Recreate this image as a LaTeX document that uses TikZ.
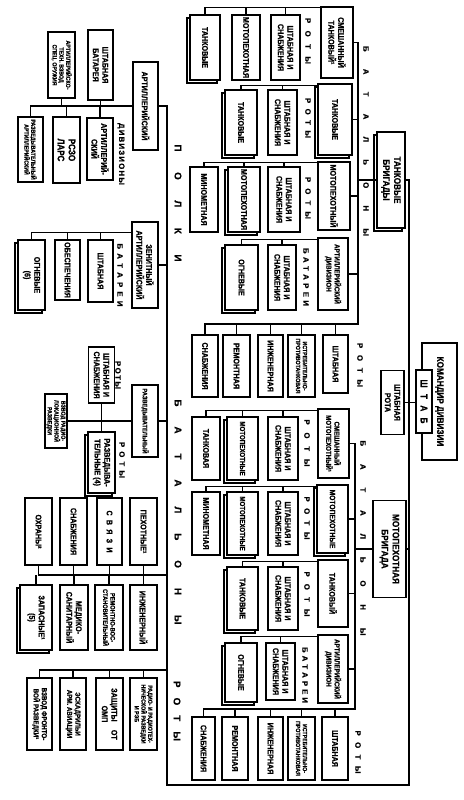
\documentclass[tikz,border=0pt]{standalone}
\usepackage{fontspec}
\setmainfont{Liberation Sans}
\newfontfamily\cnd{Liberation Sans}[FakeStretch=0.86, FakeBold=0.8]
\newfontfamily\lblfont{Liberation Sans}[FakeBold=0.6]
\usetikzlibrary{shadows,calc}
\newcommand\fntN{\cnd\bfseries\fontsize{8.3}{9.6}\selectfont}
\newcommand\fntM{\cnd\bfseries\fontsize{7.8}{9}\selectfont}
\newcommand\fntS{\cnd\bfseries\fontsize{7.2}{8.2}\selectfont}
\newcommand\fntR{\cnd\bfseries\fontsize{6.6}{7.4}\selectfont}
\newcommand\fntT{\cnd\bfseries\fontsize{6.1}{6.8}\selectfont}
\newcommand\fntB{\cnd\bfseries\fontsize{9.5}{11}\selectfont}
\newcommand\fntL{\lblfont\bfseries\fontsize{7.8}{8}\selectfont}
\newcommand\fntG{\lblfont\bfseries\fontsize{9.8}{10}\selectfont}
\tikzset{
  box/.style={draw, fill=white, rotate=-90, line width=1.4pt, inner sep=0.5pt, align=center, font=\fntN},
  stackbox/.style={box, copy shadow={shadow xshift=-3pt, shadow yshift=-3pt}},
  md/.style={font=\fntM},
  sm/.style={font=\fntS},
  rs/.style={font=\fntR},
  xs/.style={font=\fntT},
  big/.style={font=\fntB},
  lbl/.style={rotate=-90, inner sep=0pt, font=\fntL},
  biglbl/.style={rotate=-90, inner sep=0pt, font=\fntG},
  wire/.style={line width=1.3pt},
  spine/.style={line width=1.6pt},
}
\begin{document}
\begin{tikzpicture}[x=1pt, y=-1pt]
\useasboundingbox (0,0) rectangle (463,800);

% ---------- head ----------
\node[box, big, minimum width=117, minimum height=35] (kd) at (439.5,401.5) {КОМАНДИР ДИВИЗИИ};
\node[box, big, minimum width=63, minimum height=16] (sh) at (424,401.5) {\makebox[44pt]{Ш\hfill Т\hfill А\hfill Б}};
\node[box, minimum width=64, minimum height=23] (shr) at (392.5,402.5) {ШТАБНАЯ\\РОТА};

% ---------- tank brigade ----------
\node[stackbox, big, minimum width=96, minimum height=28] (tb) at (391,180) {ТАНКОВЫЕ\\БРИГАДЫ};
\node[box, minimum width=71, minimum height=32] (tb1) at (337,42.5) {СМЕШАННЫЙ\\ТАНКОВЫЙ¹};
\node[stackbox, minimum width=71, minimum height=34] (tb2) at (335,119.5) {ТАНКОВЫЕ};
\node[box, minimum width=68, minimum height=32] (tb3) at (334,196) {МОТОПЕХОТНЫЙ};
\node[box, sm, minimum width=72, minimum height=30] (tb4) at (333,274) {АРТИЛЛЕРИЙСКИЙ\\ДИВИЗИОН};

\node[stackbox, minimum width=65, minimum height=30] (tb1a) at (205,47.5) {ТАНКОВЫЕ};
\node[box, minimum width=65, minimum height=28] (tb1b) at (246,47.5) {МОТОПЕХОТНАЯ};
\node[box, minimum width=65, minimum height=29] (tb1c) at (285.5,47.5) {ШТАБНАЯ И\\СНАБЖЕНИЯ};
\node[stackbox, minimum width=65, minimum height=32] (tb2a) at (241,122.5) {ТАНКОВЫЕ};
\node[box, minimum width=65, minimum height=29] (tb2b) at (282.5,122.5) {ШТАБНАЯ И\\СНАБЖЕНИЯ};
\node[box, minimum width=65, minimum height=28] (tb3a) at (204,199.5) {МИНОМЕТНАЯ};
\node[stackbox, minimum width=65, minimum height=32] (tb3b) at (244,199.5) {МОТОПЕХОТНАЯ};
\node[box, minimum width=65, minimum height=32] (tb3c) at (284,199.5) {ШТАБНАЯ И\\СНАБЖЕНИЯ};
\node[stackbox, minimum width=65, minimum height=33] (tb4a) at (241.5,277.5) {ОГНЕВЫЕ};
\node[box, minimum width=65, minimum height=28] (tb4b) at (282,277.5) {ШТАБНАЯ И\\СНАБЖЕНИЯ};

\node[box, minimum width=58, minimum height=25] (tbr1) at (335.5,364) {ШТАБНАЯ};
\node[box, xs, minimum width=62, minimum height=27] (tbr2) at (301.5,366) {ИСТРЕБИТЕЛЬНО-\\ПРОТИВОТАНКОВАЯ};
\node[box, minimum width=62, minimum height=25] (tbr3) at (270.5,366) {ИНЖЕНЕРНАЯ};
\node[box, minimum width=62, minimum height=27] (tbr4) at (236.5,366) {РЕМОНТНАЯ};
\node[box, minimum width=62, minimum height=26] (tbr5) at (205,366) {СНАБЖЕНИЯ};

% ---------- motor rifle brigade ----------
\node[box, big, minimum width=97, minimum height=33] (mb) at (389.5,549) {МОТОПЕХОТНАЯ\\БРИГАДА};
\node[box, sm, minimum width=69, minimum height=31] (mb1) at (333.5,443.5) {СМЕШАННЫЙ\\МОТОПЕХОТНЫЙ¹};
\node[stackbox, md, minimum width=68, minimum height=31] (mb2) at (332.5,519) {МОТОПЕХОТНЫЕ};
\node[box, minimum width=67, minimum height=30] (mb3) at (333,593.5) {ТАНКОВЫЙ};
\node[box, sm, minimum width=68, minimum height=30] (mb4) at (333,669) {АРТИЛЛЕРИЙСКИЙ\\ДИВИЗИОН};

\node[box, minimum width=63, minimum height=28] (mb1a) at (206,448.5) {ТАНКОВАЯ};
\node[stackbox, sm, minimum width=63, minimum height=31] (mb1b) at (242.5,448.5) {МОТОПЕХОТНЫЕ};
\node[box, minimum width=63, minimum height=30] (mb1c) at (283,448.5) {ШТАБНАЯ И\\СНАБЖЕНИЯ};
\node[box, minimum width=63, minimum height=28] (mb2a) at (206,523.5) {МИНОМЕТНАЯ};
\node[stackbox, sm, minimum width=63, minimum height=31] (mb2b) at (242.5,523.5) {МОТОПЕХОТНЫЕ};
\node[box, minimum width=63, minimum height=30] (mb2c) at (283,523.5) {ШТАБНАЯ И\\СНАБЖЕНИЯ};
\node[stackbox, minimum width=63, minimum height=31] (mb3a) at (242.5,598.5) {ТАНКОВЫЕ};
\node[box, minimum width=63, minimum height=30] (mb3b) at (283,598.5) {ШТАБНАЯ И\\СНАБЖЕНИЯ};
\node[stackbox, minimum width=59, minimum height=32] (mb4a) at (241,672.5) {ОГНЕВЫЕ};
\node[box, minimum width=57, minimum height=29] (mb4b) at (280.5,671.5) {ШТАБНАЯ И\\СНАБЖЕНИЯ};

\node[box, minimum width=63, minimum height=26] (mbr1) at (335,748.5) {ШТАБНАЯ};
\node[box, xs, minimum width=63, minimum height=27] (mbr2) at (301.5,748.5) {ИСТРЕБИТЕЛЬНО-\\ПРОТИВОТАНКОВАЯ};
\node[box, minimum width=63, minimum height=25] (mbr3) at (270.5,748.5) {ИНЖЕНЕРНАЯ};
\node[box, minimum width=63, minimum height=26] (mbr4) at (235,748.5) {РЕМОНТНАЯ};
\node[box, minimum width=63, minimum height=23] (mbr5) at (203.5,748.5) {СНАБЖЕНИЯ};

% ---------- regiments ----------
\node[box, minimum width=88, minimum height=25] (ap) at (145.5,106) {АРТИЛЛЕРИЙСКИЙ};
\node[box, minimum width=70, minimum height=25] (ap1) at (100.5,65) {ШТАБНАЯ\\БАТАРЕЯ};
\node[box, xs, minimum width=66, minimum height=27] (ap2) at (61.5,65) {АРТИЛЛЕРИЙСКО-\\ТЕХН. ВЗВОД\\СПЕЦ. ОРУЖИЯ};
\node[box, minimum width=62, minimum height=26] (ap3) at (100,149) {АРТИЛЛЕРИЙ-\\СКИЙ};
\node[box, big, minimum width=66, minimum height=27] (ap4) at (66.5,150) {РСЗО\\ЛАРС};
\node[box, xs, minimum width=65, minimum height=25] (ap5) at (30.5,149.5) {РАЗВЕДЫВАТЕЛЬНЫЙ\\АРТИЛЛЕРИЙСКИЙ};

\node[box, minimum width=86, minimum height=26] (zap) at (145,265) {ЗЕНИТНЫЙ\\АРТИЛЛЕРИЙСКИЙ};
\node[box, minimum width=62, minimum height=25] (zap1) at (100.5,271) {ШТАБНАЯ};
\node[box, minimum width=60, minimum height=25] (zap2) at (67.5,270) {ОБЕСПЕЧЕНИЯ};
\node[stackbox, minimum width=70, minimum height=27] (zap3) at (31.5,275) {ОГНЕВЫЕ\\(6)};

% ---------- battalions ----------
\node[box, rs, minimum width=72, minimum height=26] (rb) at (145,421) {РАЗВЕДЫВАТЕЛЬНЫЙ};
\node[box, minimum width=56, minimum height=26] (rb1) at (101.5,375) {ШТАБНАЯ И\\СНАБЖЕНИЯ};
\node[box, xs, minimum width=54, minimum height=22] (rb2) at (56,421) {ВЗВОД РАДИО-\\ЛОКАЦИОННОЙ\\РАЗВЕДКИ};
\node[stackbox, minimum width=61, minimum height=27] (rb3) at (101.5,462.5) {РАЗВЕДЫВА-\\ТЕЛЬНЫЕ (4)};

\node[box, minimum width=67, minimum height=27] (bn1) at (143.5,531.5) {ПЕХОТНЫЕ¹};
\node[box, minimum width=67, minimum height=25] (bn2) at (109.5,531.5) {\makebox[42pt]{С\hfill В\hfill Я\hfill З\hfill И}};
\node[box, minimum width=67, minimum height=27] (bn3) at (73.5,531.5) {СНАБЖЕНИЯ};
\node[box, minimum width=67, minimum height=27] (bn4) at (38.5,531.5) {ОХРАНЫ²};
\node[box, minimum width=65, minimum height=27] (bn5) at (143.5,617.5) {ИНЖЕНЕРНЫЙ};
\node[box, rs, minimum width=65, minimum height=28] (bn6) at (109,617.5) {РЕМОНТНО-ВОС-\\СТАНОВИТЕЛЬНЫЙ};
\node[box, minimum width=65, minimum height=28] (bn7) at (74,617.5) {МЕДИКО-\\САНИТАРНЫЙ};
\node[stackbox, minimum width=65, minimum height=32] (bn8) at (36,617.5) {ЗАПАСНЫЕ¹\\(5)};

% ---------- companies ----------
\node[box, xs, minimum width=72, minimum height=27] (rt1) at (143.5,714) {РАДИО- И РАДИОТЕХ-\\НИЧЕСКОЙ РАЗВЕДКИ\\И РЭБ};
\node[box, minimum width=72, minimum height=27] (rt2) at (109.5,714) {ЗАЩИТЫ\quad ОТ\\ОМП};
\node[box, sm, minimum width=72, minimum height=26] (rt3) at (73,714) {ЭСКАДРИЛЬИ\\АРМ. АВИАЦИИ};
\node[box, sm, minimum width=72, minimum height=25] (rt4) at (39.5,714) {ВЗВОД ФРОНТО-\\ВОЙ РАЗВЕДКИ¹};

% ---------- labels ----------
\node[lbl] (l1) at (308,41) {\makebox[46pt]{Р\hfill О\hfill Т\hfill Ы}};
\node[lbl] (l2) at (308,118) {\makebox[40pt]{Р\hfill О\hfill Т\hfill Ы}};
\node[lbl] (l3) at (308,198) {\makebox[42pt]{Р\hfill О\hfill Т\hfill Ы}};
\node[lbl] (l4) at (306,277) {\makebox[58pt]{Б\hfill А\hfill Т\hfill А\hfill Р\hfill Е\hfill И}};
\node[lbl] (l5) at (360,365) {\makebox[44pt]{Р\hfill О\hfill Т\hfill Ы}};
\node[lbl] (l6) at (307,443) {\makebox[47pt]{Р\hfill О\hfill Т\hfill Ы}};
\node[lbl] (l7) at (307,518) {\makebox[43pt]{Р\hfill О\hfill Т\hfill Ы}};
\node[lbl] (l8) at (307,594) {\makebox[45pt]{Р\hfill О\hfill Т\hfill Ы}};
\node[lbl] (l9) at (305,675) {\makebox[56pt]{Б\hfill А\hfill Т\hfill А\hfill Р\hfill Е\hfill И}};
\node[lbl] (l10) at (358,752) {\makebox[43pt]{Р\hfill О\hfill Т\hfill Ы}};
\node[lbl] (l11) at (366,141) {\makebox[190pt]{Б\hfill А\hfill Т\hfill А\hfill Л\hfill Ь\hfill О\hfill Н\hfill Ы}};
\node[lbl] (l12) at (363,538) {\makebox[195pt]{Б\hfill А\hfill Т\hfill А\hfill Л\hfill Ь\hfill О\hfill Н\hfill Ы}};
\node[lbl] (l13) at (121,154) {\makebox[62pt]{Д\hfill И\hfill В\hfill И\hfill З\hfill И\hfill О\hfill Н\hfill Ы}};
\node[lbl] (l14) at (120,275) {\makebox[63pt]{Б\hfill А\hfill Т\hfill А\hfill Р\hfill Е\hfill И}};
\node[lbl] (l15) at (118,375) {\makebox[28pt]{Р\hfill О\hfill Т\hfill Ы}};
\node[lbl] (l16) at (122,460) {\makebox[36pt]{Р\hfill О\hfill Т\hfill Ы}};
\node[biglbl] (l17) at (178,203) {\makebox[117pt]{П\hfill О\hfill Л\hfill К\hfill И}};
\node[biglbl] (l18) at (178,512) {\makebox[225pt]{Б\hfill А\hfill Т\hfill А\hfill Л\hfill Ь\hfill О\hfill Н\hfill Ы}};
\node[biglbl] (l19) at (177,711) {\makebox[60pt]{Р\hfill О\hfill Т\hfill Ы}};

% ---------- connectors ----------
\coordinate (sp) at (409,785);
\coordinate (lsp) at (167,785);
\draw[spine] (tb.north) -| (sp) -- (lsp) |- (ap.north);
\draw[wire] (shr.north) -- (shr.north -| sh.south);
\draw[wire] (mb.north) -- (mb.north -| sp);

% tank brigade
\coordinate (tbk) at (358,324);
\draw[wire] (tb1.north) -| (tbk) -- (tbk -| tbr5.west) -- (tbr5.west);
\draw[wire] (tb.south) -- (tb.south -| tbk);
\foreach \n in {tb2,tb3,tb4} \draw[wire] (\n.north) -- (\n.north -| tbk);
\foreach \n in {tbr1,tbr2,tbr3,tbr4} \draw[wire] (\n.west) -- (\n.west |- tbk);

\coordinate (g1) at ($(tb1.south west)+(0,1)$);
\draw[wire] (tb1a.west) |- (g1);
\foreach \n in {tb1b,tb1c} \draw[wire] (\n.west) -- (\n.west |- g1);
\coordinate (g2) at ($(tb2.south west)+(0,2)$);
\draw[wire] (tb2a.west) |- (g2);
\draw[wire] (tb2b.west) -- (tb2b.west |- g2);
\coordinate (g3) at ($(tb3.south west)+(0,1)$);
\draw[wire] (tb3a.west) |- (g3);
\foreach \n in {tb3b,tb3c} \draw[wire] (\n.west) -- (\n.west |- g3);
\coordinate (g4) at ($(tb4.south west)+(0,2)$);
\draw[wire] (tb4a.west) |- (g4);
\draw[wire] (tb4b.west) -- (tb4b.west |- g4);

% motor rifle brigade
\coordinate (mbk) at (355,709);
\draw[wire] (mb1.north) -| (mbk) -- (mbk -| mbr5.west) -- (mbr5.west);
\draw[wire] (mb.south) -- (mb.south -| mbk);
\foreach \n in {mb2,mb3,mb4} \draw[wire] (\n.north) -- (\n.north -| mbk);
\foreach \n in {mbr1,mbr2,mbr3,mbr4} \draw[wire] (\n.west) -- (\n.west |- mbk);

\coordinate (g5) at ($(mb1.south west)+(0,2)$);
\draw[wire] (mb1a.west) |- (g5);
\foreach \n in {mb1b,mb1c} \draw[wire] (\n.west) -- (\n.west |- g5);
\coordinate (g6) at ($(mb2.south west)+(0,2)$);
\draw[wire] (mb2a.west) |- (g6);
\foreach \n in {mb2b,mb2c} \draw[wire] (\n.west) -- (\n.west |- g6);
\coordinate (g7) at ($(mb3.south west)+(0,2)$);
\draw[wire] (mb3a.west) |- (g7);
\draw[wire] (mb3b.west) -- (mb3b.west |- g7);
\coordinate (g8) at ($(mb4.south west)+(0,2)$);
\draw[wire] (mb4a.west) |- (g8);
\draw[wire] (mb4b.west) -- (mb4b.west |- g8);

% regiments
\draw[wire] (ap.south) -- (ap.south -| ap5.west) -- (ap5.west);
\foreach \n in {ap1,ap2} \draw[wire] (\n.east) -- (\n.east |- ap.south);
\foreach \n in {ap3,ap4} \draw[wire] (\n.west) -- (\n.west |- ap.south);
\draw[wire] (zap.north) -- (zap.north -| lsp);
\coordinate (gz) at ($(zap.south west)+(0,11)$);
\draw[wire] (zap3.west) |- (gz);
\foreach \n in {zap1,zap2} \draw[wire] (\n.west) -- (\n.west |- gz);

% battalions
\draw[wire] (rb.north) -- (rb.north -| lsp);
\draw[wire] (rb2.north) -- (rb.south);
\draw[wire] (rb1.east) -- (rb3.west);
\coordinate (gb) at (167,575);
\draw[wire] (bn4.east) |- (gb);
\foreach \n in {bn1,bn2,bn3} \draw[wire] (\n.east) -- (\n.east |- gb);
\foreach \n in {bn5,bn6,bn7,bn8} \draw[wire] (\n.west) -- (\n.west |- gb);

% companies
\coordinate (gc) at (167,670);
\draw[wire] (rt4.west) |- (gc);
\foreach \n in {rt1,rt2,rt3} \draw[wire] (\n.west) -- (\n.west |- gc);
\end{tikzpicture}
\end{document}
